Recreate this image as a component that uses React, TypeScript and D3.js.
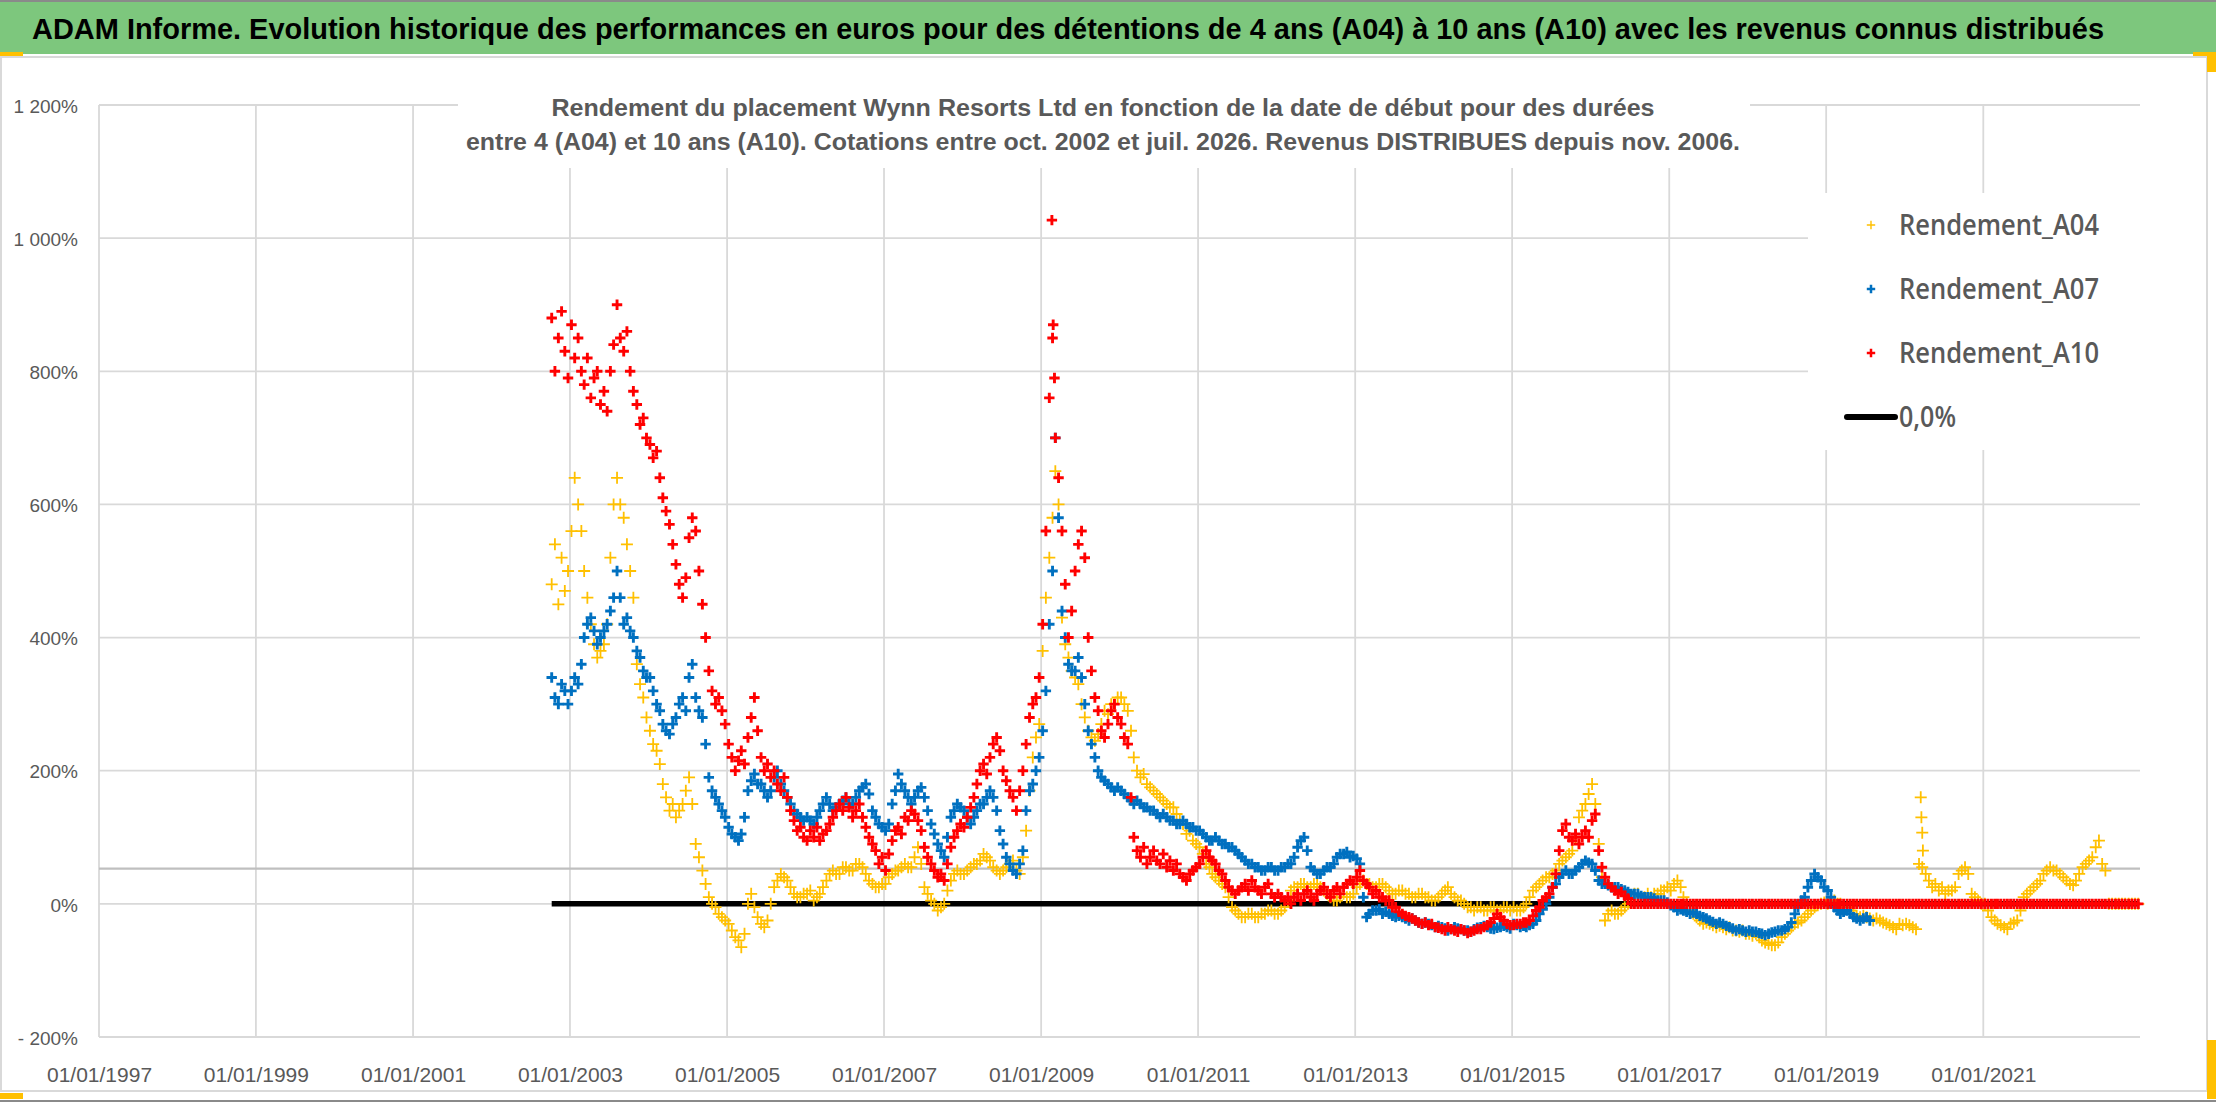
import { useEffect, useRef } from 'react'
import * as d3 from 'd3'

const W = 2216
const H = 1102
const PLOT = { left: 99, right: 2140, top: 105, bottom: 1037 }

// first sample of every series: early Oct 2002, then two samples per month
const START = new Date(2002, 9, 8)

// Rendement_A04 (%), two values per month, Oct 2002 -> Dec 2022
const A04: number[] = [
  480, 540, 450, 520, 470, 500, // 2002 Oct-Dec
  560, 640, 600, 560, 500, 460, 420, 390, 370, 380, 390, 420, 520, 600, 640, 600, 580, 540, 500, 460, 360, 330, 310, 280, // 2003
  260, 240, 230, 210, 180, 160, 140, 150, 130, 140, 150, 170, 190, 150, 90, 70, 50, 30, 10, 0, -5, -15, -20, -25, // 2004
  -30, -40, -50, -55, -65, -45, 0, 15, -5, -20, -30, -35, -25, 0, 25, 35, 45, 40, 35, 25, 15, 10, 10, 15, // 2005
  15, 20, 5, 10, 15, 25, 35, 45, 50, 45, 45, 55, 55, 50, 50, 60, 60, 55, 45, 35, 30, 25, 25, 30, // 2006
  30, 40, 45, 50, 50, 55, 60, 55, 55, 70, 85, 60, 25, 15, 5, 0, -10, -5, 0, 20, 35, 45, 50, 45, // 2007
  45, 50, 55, 60, 60, 65, 75, 70, 65, 55, 50, 45, 50, 55, 60, 65, 50, 45, 70, 110, 170, 220, 250, 270, // 2008
  380, 460, 520, 580, 650, 600, 430, 390, 370, 350, 340, 330, 300, 280, 260, 250, 245, 255, 270, 290, 285, 300, 300, 310, // 2009
  310, 300, 290, 260, 220, 200, 190, 195, 180, 175, 170, 165, 160, 155, 150, 145, 145, 135, 125, 120, 105, 110, 95, 90, // 2010
  85, 75, 60, 55, 45, 40, 35, 30, 25, 10, -5, -10, -15, -20, -20, -15, -15, -20, -20, -15, -15, -10, -10, -15, // 2011
  -15, -10, -5, 5, 20, 25, 25, 30, 30, 25, 25, 30, 30, 25, 20, 15, 10, 5, 5, 10, 15, 10, 10, 15, // 2012
  25, 30, 35, 30, 30, 25, 25, 30, 30, 25, 20, 15, 15, 20, 20, 15, 15, 10, 10, 15, 15, 10, 10, 5, // 2013
  5, 10, 15, 20, 25, 15, 10, 5, 5, 0, -5, -5, -10, -5, -5, -10, -10, -5, -5, -10, -10, -5, -5, -10, // 2014
  -5, -10, -10, -5, 0, 10, 20, 25, 30, 35, 40, 40, 45, 50, 60, 65, 70, 75, 80, 100, 130, 140, 150, 165, // 2015
  180, 150, 90, 40, -25, -15, -10, -15, -15, -10, -5, 0, 10, 15, 15, 10, 10, 15, 10, 15, 15, 20, 20, 25, // 2016
  20, 30, 35, 25, 10, 0, -10, -15, -20, -25, -30, -28, -30, -32, -35, -33, -35, -38, -35, -40, -40, -42, -40, -45, // 2017
  -45, -48, -45, -50, -55, -58, -60, -62, -62, -58, -50, -45, -40, -35, -30, -28, -25, -20, -15, -10, -5, -2, 0, 2, // 2018
  0, 5, 5, 0, 0, -5, -5, -10, -15, -18, -20, -18, -20, -22, -25, -22, -25, -28, -30, -32, -35, -38, -30, -32, // 2019
  -30, -32, -35, -38, 60, 55, 45, 35, 25, 30, 20, 25, 15, 20, 20, 25, 45, 50, 55, 45, 15, 10, 5, 0, // 2020
  0, -10, -20, -25, -30, -32, -35, -38, -30, -28, -25, -10, 10, 15, 20, 25, 30, 35, 45, 50, 55, 50, 50, 45, // 2021
  40, 35, 30, 28, 35, 45, 55, 60, 65, 70, 85, 95, 60, 50, 0, 0, 0, 0, 0, 0, 0, 0, 0, 0, // 2022
]

// Rendement_A07 (%), two values per month, Oct 2002 -> Jul 2019
const A07: number[] = [
  340, 310, 300, 330, 320, 300, // 2002 Oct-Dec
  320, 340, 330, 360, 400, 420, 430, 410, 390, 400, 410, 420, 440, 460, 500, 460, 420, 430, 410, 400, 380, 370, 350, 340, // 2003
  340, 320, 300, 290, 270, 260, 255, 270, 280, 300, 310, 290, 340, 360, 310, 290, 280, 240, 190, 170, 160, 150, 140, 130, // 2004
  115, 105, 100, 95, 105, 130, 170, 185, 195, 180, 180, 170, 160, 170, 190, 200, 180, 170, 160, 150, 140, 135, 130, 125, // 2005
  130, 125, 120, 130, 140, 150, 160, 150, 140, 145, 150, 155, 160, 150, 150, 160, 170, 175, 180, 165, 140, 130, 120, 115, // 2006
  110, 120, 150, 170, 195, 180, 170, 160, 150, 160, 170, 175, 160, 140, 120, 105, 90, 80, 70, 100, 130, 140, 150, 145, // 2007
  140, 130, 120, 130, 140, 150, 150, 160, 170, 160, 140, 110, 90, 70, 60, 50, 45, 60, 80, 140, 170, 180, 200, 220, // 2008
  260, 320, 420, 500, 700, 580, 440, 400, 360, 350, 350, 370, 340, 300, 260, 240, 220, 200, 190, 185, 180, 175, 170, 175, // 2009
  170, 165, 160, 155, 150, 155, 150, 145, 145, 140, 140, 135, 130, 135, 130, 125, 125, 120, 120, 125, 120, 115, 115, 110, // 2010
  110, 105, 100, 95, 95, 100, 95, 90, 90, 85, 85, 80, 75, 70, 65, 60, 60, 55, 55, 50, 50, 55, 55, 50, // 2011
  50, 55, 55, 60, 60, 70, 85, 95, 100, 80, 55, 50, 45, 45, 50, 55, 55, 60, 70, 75, 75, 78, 70, 72, // 2012
  68, 60, 10, -20, -15, -10, -10, -8, -15, -12, -15, -18, -20, -18, -20, -22, -25, -22, -25, -28, -30, -28, -30, -32, // 2013
  -35, -33, -35, -37, -40, -38, -35, -37, -38, -40, -40, -42, -38, -36, -35, -33, -35, -37, -38, -36, -35, -33, -35, -37, // 2014
  -30, -32, -35, -33, -35, -32, -30, -25, -15, -8, 0, 10, 25, 30, 40, 45, 50, 45, 45, 50, 55, 60, 65, 62, // 2015
  60, 50, 35, 30, 30, 28, 25, 25, 25, 22, 20, 18, 15, 15, 15, 12, 10, 10, 10, 8, 5, 5, 5, 2, // 2016
  -2, -5, -10, -8, -10, -12, -15, -13, -15, -18, -20, -22, -25, -27, -30, -28, -30, -33, -35, -37, -40, -38, -40, -42, // 2017
  -40, -42, -42, -44, -45, -47, -45, -43, -42, -40, -40, -38, -35, -28, -15, -5, 5, 10, 25, 35, 45, 40, 35, 25, // 2018
  20, 10, -5, -10, -15, -12, -10, -15, -20, -22, -25, -22, -20, -25, // 2019 Jan-Jul
]

// Rendement_A10 (%), two values per month, Oct 2002 -> Dec 2022 (zero once the 10 years are not known)
const A10: number[] = [
  880, 800, 850, 890, 830, 790, // 2002 Oct-Dec
  870, 820, 850, 800, 780, 820, 760, 790, 800, 750, 770, 740, 800, 840, 900, 850, 830, 860, 800, 770, 750, 720, 730, 700, // 2003
  690, 670, 680, 640, 610, 590, 570, 540, 510, 480, 460, 490, 550, 580, 560, 500, 450, 400, 350, 320, 300, 310, 290, 270, // 2004
  240, 220, 200, 215, 230, 210, 250, 280, 310, 260, 220, 200, 210, 190, 200, 180, 170, 190, 160, 140, 125, 110, 115, 100, // 2005
  95, 110, 100, 115, 95, 105, 110, 120, 130, 140, 150, 140, 160, 145, 130, 140, 150, 130, 115, 100, 90, 80, 60, 70, // 2006
  50, 75, 95, 110, 115, 105, 130, 125, 140, 135, 125, 110, 85, 70, 60, 50, 40, 45, 35, 60, 85, 100, 110, 120, // 2007
  115, 130, 145, 160, 180, 200, 210, 195, 220, 240, 250, 230, 200, 185, 170, 160, 140, 170, 200, 240, 280, 300, 310, 340, // 2008
  420, 560, 760, 850, 700, 640, 560, 480, 400, 440, 500, 540, 560, 520, 400, 350, 310, 290, 260, 250, 270, 290, 300, 280, // 2009
  270, 250, 240, 160, 100, 80, 70, 85, 60, 70, 80, 65, 60, 75, 55, 65, 50, 60, 45, 40, 35, 45, 50, 55, // 2010
  60, 70, 80, 70, 65, 60, 50, 45, 35, 25, 20, 15, 20, 25, 30, 20, 35, 25, 20, 15, 25, 30, 15, 10, // 2011
  15, 10, 5, 10, 0, 10, 15, 5, 15, 20, 10, 5, 15, 20, 25, 15, 10, 20, 25, 15, 25, 30, 35, 30, // 2012
  40, 50, 35, 30, 25, 15, 20, 10, 10, 5, 5, -5, -5, -12, -15, -18, -20, -22, -25, -28, -30, -28, -32, -30, // 2013
  -35, -36, -38, -40, -35, -38, -40, -42, -38, -40, -44, -42, -40, -38, -38, -35, -32, -28, -22, -15, -20, -25, -30, -32, // 2014
  -32, -30, -30, -28, -28, -25, -18, -10, -5, 5, 10, 15, 25, 45, 80, 110, 120, 100, 95, 105, 90, 100, 110, 100, // 2015
  125, 135, 80, 55, 40, 30, 25, 20, 15, 18, 12, 8, 0, 0, 0, 0, 0, 0, 0, 0, 0, 0, 0, 0, // 2016
  0, 0, 0, 0, 0, 0, 0, 0, 0, 0, 0, 0, 0, 0, 0, 0, 0, 0, 0, 0, 0, 0, 0, 0, // 2017
  0, 0, 0, 0, 0, 0, 0, 0, 0, 0, 0, 0, 0, 0, 0, 0, 0, 0, 0, 0, 0, 0, 0, 0, // 2018
  0, 0, 0, 0, 0, 0, 0, 0, 0, 0, 0, 0, 0, 0, 0, 0, 0, 0, 0, 0, 0, 0, 0, 0, // 2019
  0, 0, 0, 0, 0, 0, 0, 0, 0, 0, 0, 0, 0, 0, 0, 0, 0, 0, 0, 0, 0, 0, 0, 0, // 2020
  0, 0, 0, 0, 0, 0, 0, 0, 0, 0, 0, 0, 0, 0, 0, 0, 0, 0, 0, 0, 0, 0, 0, 0, // 2021
  0, 0, 0, 0, 0, 0, 0, 0, 0, 0, 0, 0, 0, 0, 0, 0, 0, 0, 0, 0, 0, 0, 0, 0, // 2022
]

// isolated daily points that stick out of the bands
const A04_EXTRA = [
  { date: '2020-03-16', v: 160 },
  { date: '2020-03-19', v: 130 },
  { date: '2020-03-23', v: 107 },
  { date: '2020-03-26', v: 80 },
]
const A10_EXTRA = [
  { date: '2009-02-20', v: 1027 },
  { date: '2009-02-26', v: 870 },
  { date: '2009-03-04', v: 790 },
]

const Y_TICKS = [-200, 0, 200, 400, 600, 800, 1000, 1200]
const Y_LABELS = ['- 200%', '0%', '200%', '400%', '600%', '800%', '1 000%', '1 200%']
const X_TICK_YEARS = [1997, 1999, 2001, 2003, 2005, 2007, 2009, 2011, 2013, 2015, 2017, 2019, 2021]
const REF_LEVEL = 53 // darker grey horizontal line

const TITLE = 'ADAM Informe. Evolution historique des performances en euros pour des détentions de 4 ans (A04) à 10 ans (A10) avec les revenus connus distribués'
const SUBTITLE = [
  'Rendement du placement Wynn Resorts Ltd en fonction de la date de début pour des durées',
  'entre 4 (A04) et 10 ans (A10). Cotations entre oct. 2002 et juil. 2026. Revenus DISTRIBUES depuis nov. 2006.',
]

const SERIES = [
  { name: 'Rendement_A04', values: A04, extra: A04_EXTRA, color: '#FFC000', arm: 6, width: 1.8 },
  { name: 'Rendement_A07', values: A07, extra: [] as { date: string; v: number }[], color: '#0070C0', arm: 5.2, width: 2.9 },
  { name: 'Rendement_A10', values: A10, extra: A10_EXTRA, color: '#FF0000', arm: 5.2, width: 2.9 },
]

const GREY_TEXT = '#595959'
const GRID = '#D9D9D9'

const cross = (a: number) => `M${-a},0H${a}M0,${-a}V${a}`
const sampleDate = (i: number) => d3.timeDay.offset(d3.timeMonth.offset(START, Math.floor(i / 2)), (i % 2) * 15)

export default function App() {
  const svgRef = useRef<SVGSVGElement>(null)

  useEffect(() => {
    const svgEl = svgRef.current
    if (!svgEl) return
    const svg = d3.select(svgEl)
    svg.selectAll('*').remove()

    const x = d3.scaleTime()
      .domain([new Date(1997, 0, 1), new Date(2022, 11, 31)])
      .range([PLOT.left, PLOT.right])
    const y = d3.scaleLinear().domain([-200, 1200]).range([PLOT.bottom, PLOT.top])

    // page frame + green title bar
    svg.append('rect').attr('width', W).attr('height', H).attr('fill', '#fff')
    svg.append('rect').attr('x', 0).attr('y', 0).attr('width', W).attr('height', 54).attr('fill', '#7DC77D')
    svg.append('line').attr('x1', 0).attr('x2', W).attr('y1', 1).attr('y2', 1).attr('stroke', '#8a8a8a').attr('stroke-width', 2)
    svg.append('text')
      .attr('x', 1068).attr('y', 39)
      .attr('text-anchor', 'middle')
      .attr('font-family', 'Liberation Sans, Arial, sans-serif').attr('font-weight', 700).attr('font-size', 30)
      .attr('textLength', 2072).attr('lengthAdjust', 'spacingAndGlyphs')
      .attr('fill', '#000')
      .text(TITLE)

    // chart area border
    svg.append('rect')
      .attr('x', 1).attr('y', 57).attr('width', 2206).attr('height', 1034)
      .attr('fill', '#fff').attr('stroke', GRID).attr('stroke-width', 2)
    svg.append('line').attr('x1', 0).attr('x2', W).attr('y1', H - 1).attr('y2', H - 1).attr('stroke', '#8a8a8a').attr('stroke-width', 2)

    // gridlines
    const grid = svg.append('g')
    grid.selectAll('.hgrid')
      .data(Y_TICKS)
      .join('line')
      .attr('class', 'hgrid')
      .attr('x1', PLOT.left).attr('x2', PLOT.right)
      .attr('y1', d => y(d)).attr('y2', d => y(d))
      .attr('stroke', GRID).attr('stroke-width', 1.8)
    grid.selectAll('.vgrid')
      .data(X_TICK_YEARS)
      .join('line')
      .attr('class', 'vgrid')
      .attr('x1', d => x(new Date(d, 0, 1))).attr('x2', d => x(new Date(d, 0, 1)))
      .attr('y1', PLOT.top).attr('y2', PLOT.bottom)
      .attr('stroke', GRID).attr('stroke-width', 1.8)
    grid.append('line')
      .attr('x1', PLOT.left).attr('x2', PLOT.right)
      .attr('y1', y(REF_LEVEL)).attr('y2', y(REF_LEVEL))
      .attr('stroke', '#BFBFBF').attr('stroke-width', 2.2)

    // axes labels
    const yAxis = d3.axisLeft(y).tickValues(Y_TICKS).tickSize(0).tickPadding(21)
      .tickFormat((_, i) => Y_LABELS[i])
    svg.append('g')
      .attr('transform', `translate(${PLOT.left},0)`)
      .call(yAxis)
      .call(g => g.select('.domain').remove())
      .call(g => g.selectAll('text')
        .attr('font-family', 'Liberation Sans, Arial, sans-serif').attr('font-size', 19)
        .attr('fill', GREY_TEXT).attr('dy', '0.38em'))

    const xAxis = d3.axisBottom(x)
      .tickValues(X_TICK_YEARS.map(yr => new Date(yr, 0, 1)))
      .tickSize(0)
      .tickFormat(d => d3.timeFormat('%d/%m/%Y')(d as Date))
    svg.append('g')
      .attr('transform', `translate(0,${PLOT.bottom})`)
      .call(xAxis)
      .call(g => g.select('.domain').remove())
      .call(g => g.selectAll('text')
        .attr('font-family', 'Liberation Sans, Arial, sans-serif').attr('font-size', 21)
        .attr('fill', GREY_TEXT).attr('y', 45).attr('dy', 0))

    // chart title box
    svg.append('rect').attr('x', 458).attr('y', 96).attr('width', 1292).attr('height', 72).attr('fill', '#fff')
    SUBTITLE.forEach((line, i) => {
      svg.append('text')
        .attr('x', 1103).attr('y', 116 + i * 34)
        .attr('text-anchor', 'middle')
        .attr('font-family', 'Liberation Sans, Arial, sans-serif').attr('font-weight', 700).attr('font-size', 23)
        .attr('textLength', i === 0 ? 1103 : 1274).attr('lengthAdjust', 'spacingAndGlyphs')
        .attr('fill', GREY_TEXT)
        .text(line)
    })

    // legend box
    svg.append('rect').attr('x', 1808).attr('y', 193).attr('width', 332).attr('height', 257).attr('fill', '#fff')

    // zero line
    const first = START
    const last = sampleDate(A10.length - 1)
    svg.append('line')
      .attr('x1', x(first)).attr('x2', x(last))
      .attr('y1', y(0)).attr('y2', y(0))
      .attr('stroke', '#000').attr('stroke-width', 5.5)

    // series
    SERIES.forEach(s => {
      const pts = s.values.map((v, i) => ({ date: sampleDate(i), v }))
        .concat(s.extra.map(e => ({ date: new Date(e.date), v: e.v })))
      svg.append('g')
        .selectAll('path')
        .data(pts)
        .join('path')
        .attr('transform', p => `translate(${x(p.date)},${y(p.v)})`)
        .attr('d', cross(s.arm))
        .attr('fill', 'none')
        .attr('stroke', s.color)
        .attr('stroke-width', s.width)
    })

    // legend
    const leg = svg.append('g')
    SERIES.forEach((s, i) => {
      leg.append('path')
        .attr('transform', `translate(1871,${225 + i * 64})`)
        .attr('d', cross(4.2))
        .attr('fill', 'none').attr('stroke', s.color).attr('stroke-width', s.width - 0.4)
      leg.append('text')
        .attr('x', 1899).attr('y', 235 + i * 64)
        .attr('font-family', 'Open Sans, Liberation Sans, sans-serif').attr('font-weight', 600).attr('font-size', 28)
        .attr('textLength', 200).attr('lengthAdjust', 'spacingAndGlyphs')
        .attr('fill', GREY_TEXT)
        .text(s.name)
    })
    leg.append('line')
      .attr('x1', 1847).attr('x2', 1895).attr('y1', 417).attr('y2', 417)
      .attr('stroke', '#000').attr('stroke-width', 6).attr('stroke-linecap', 'round')
    leg.append('text')
      .attr('x', 1899).attr('y', 427)
      .attr('font-family', 'Open Sans, Liberation Sans, sans-serif').attr('font-weight', 600).attr('font-size', 28)
      .attr('textLength', 57).attr('lengthAdjust', 'spacingAndGlyphs')
      .attr('fill', GREY_TEXT)
      .text('0,0%')

    // selection handles left on the screenshot
    const handles = [
      [0, 52, 23, 4], [2193, 52, 23, 4], [2207, 52, 9, 20],
      [2207, 1040, 9, 59], [0, 1093, 23, 6],
    ]
    svg.append('g').selectAll('rect').data(handles).join('rect')
      .attr('x', d => d[0]).attr('y', d => d[1]).attr('width', d => d[2]).attr('height', d => d[3])
      .attr('fill', '#FFC000')
  }, [])

  return (
    <div style={{ position: 'absolute', left: 0, top: 0 }}>
      <svg ref={svgRef} width={W} height={H} style={{ display: 'block' }} />
    </div>
  )
}
